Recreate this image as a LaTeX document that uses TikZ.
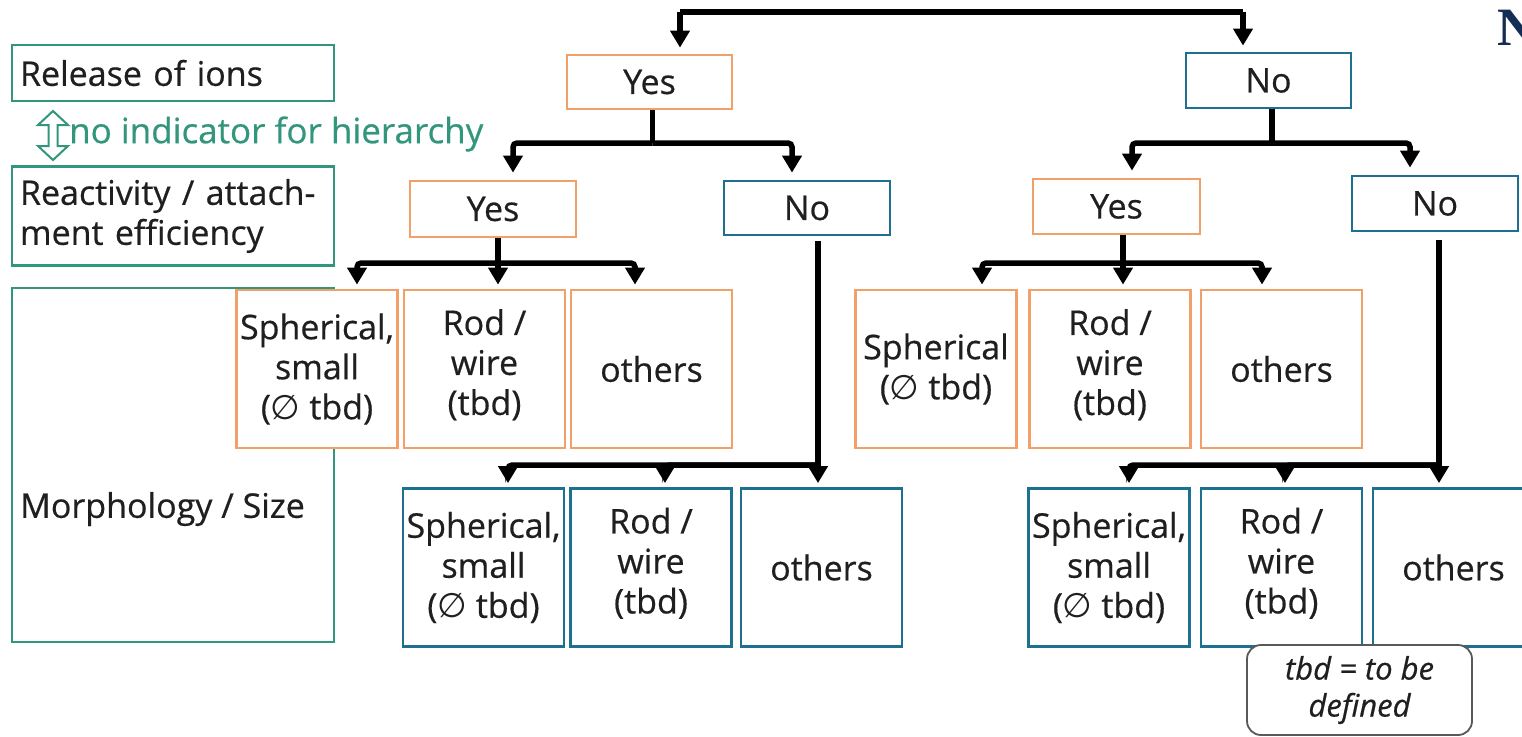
\documentclass[tikz,border=0pt]{standalone}
\usepackage{fontspec}
\setmainfont{Open Sans}[FakeBold=0.5]
\newfontfamily\serifN{Liberation Serif}
\newfontfamily\symf{DejaVu Sans}
\newcommand{\dia}{{\symf ∅}}
\usetikzlibrary{arrows.meta,calc}
\definecolor{orng}{RGB}{242,160,105}
\definecolor{blu}{RGB}{30,112,145}
\definecolor{grn}{RGB}{50,150,125}
\definecolor{navy}{RGB}{20,45,85}
\begin{document}
\begin{tikzpicture}[x=1pt,y=-1pt,
  every node/.style={font=\fontsize{34}{40}\selectfont, text=black!88},
  basebox/.style={line width=2.8, fill=white, inner sep=0, align=center},
  obox/.style={basebox, draw=orng},
  bbox/.style={basebox, draw=blu},
  gbox/.style={basebox, draw=grn, text width=306, align=left},
  morph/.style={minimum width=161, minimum height=158},
  conn/.style={line width=5.5, black, rounded corners=4},
  arr/.style={conn, -{Triangle[width=19pt,length=17pt]}, shorten >=4}
]
\clip (0,0) rectangle (1522,736);
\fill[white] (0,0) rectangle (1522,736);

% left legend boxes
\node[gbox, minimum width=322, minimum height=56] (rel) at (173,73) {Release of ions};
\node[gbox, minimum width=322, minimum height=99] (rea) at (173,216) {Reactivity / attach-\\ment efficiency};
\node[gbox, minimum width=322, minimum height=354] (mor) at (173,465) {};
\node[anchor=west, inner sep=0] (morT) at (20,509) {Morphology / Size};
\draw[grn, line width=2, fill=white] (53,111) -- (68,125) -- (57.5,125) -- (57.5,146) -- (68,146) -- (53,160) -- (38,146) -- (48.5,146) -- (48.5,125) -- (38,125) -- cycle;
\node[anchor=west, inner sep=0, text=grn, font=\fontsize{35}{40}\selectfont] (hier) at (69,134) {no indicator for hierarchy};

% top level
\node[obox, minimum width=165, minimum height=54] (yesT) at (649.5,82) {Yes};
\node[bbox, minimum width=165, minimum height=55] (noT) at (1268.5,80.5) {No};
% second level
\node[obox, minimum width=166, minimum height=56] (yesL) at (493,209) {Yes};
\node[bbox, minimum width=166, minimum height=54] (noL) at (807,208) {No};
\node[obox, minimum width=167, minimum height=55] (yesR) at (1116.5,206.5) {Yes};
\node[bbox, minimum width=166, minimum height=55] (noR) at (1435,203.5) {No};
% morphology rows
\node[obox, morph] (sphL) at (317,369) {Spherical,\\small\\(\dia{} tbd)};
\node[obox, morph] (rodL) at (484.5,369) {Rod /\\wire\\(tbd)\\[-26pt]};
\node[obox, morph] (othL) at (651.5,369) {others};
\node[bbox, morph] (sphLB) at (483.5,567.5) {Spherical,\\small\\(\dia{} tbd)};
\node[bbox, morph] (rodLB) at (651,567.5) {Rod /\\wire\\(tbd)\\[-26pt]};
\node[bbox, morph] (othLB) at (821.5,567.5) {others};
\node[obox, morph] (sphR) at (936,369) {Spherical\\(\dia{} tbd)};
\node[obox, morph] (rodR) at (1110,369) {Rod /\\wire\\(tbd)\\[-26pt]};
\node[obox, morph] (othR) at (1281.5,369) {others};
\node[bbox, morph] (sphRB) at (1109,567.5) {Spherical,\\small\\(\dia{} tbd)};
\node[bbox, morph] (rodRB) at (1281.5,567.5) {Rod /\\wire\\(tbd)\\[-26pt]};
\node[bbox, morph] (othRB) at (1453.5,567.5) {others};

% connectors: top
\coordinate (tL) at (680,12);
\coordinate (tR) at (1243,12);
\draw[conn] (tL) -- (tR);
\draw[arr, shorten >=6] (tL) -- (tL |- yesT.north);
\draw[arr, shorten >=6] (tR) -- (tR |- noT.north);
% yesT branch
\coordinate (j1) at (652.5,143);
\draw[conn] (j1 |- yesT.south) -- (j1);
\draw[arr, shorten >=7] (j1) -| ([xshift=20]yesL.north);
\draw[arr, shorten >=7] (j1) -| ([xshift=-15]noL.north);
% noT branch
\coordinate (j2) at (1272,143);
\draw[conn] (j2 |- noT.south) -- (j2);
\draw[arr, shorten >=7] (j2) -| ([xshift=15.5]yesR.north);
\draw[arr, shorten >=7] (j2) -| ([xshift=-25]noR.north);
% yesL branch
\coordinate (j3) at (498,263);
\draw[arr] (j3 |- yesL.south) -- (j3 |- rodL.north);
\draw[arr] (j3) -| ([xshift=40]sphL.north);
\draw[arr] (j3) -| ([xshift=-16.5]othL.north);
% yesR branch
\coordinate (j4) at (1123,263);
\draw[arr] (j4 |- yesR.south) -- (j4 |- rodR.north);
\draw[arr] (j4) -| ([xshift=46]sphR.north);
\draw[arr] (j4) -| ([xshift=-19.5]othR.north);
% noL branch
\coordinate (j5) at (818,465);
\draw[arr, shorten <=5] (j5 |- noL.south) -- (j5 |- othLB.north);
\draw[arr] (j5) -| ([xshift=24.5]sphLB.north);
\draw[arr] (j5) -| ([xshift=14]rodLB.north);
% noR branch
\coordinate (j6) at (1439,465);
\draw[arr, shorten <=8] (j6 |- noR.south) -- (j6 |- othRB.north);
\draw[arr] (j6) -| ([xshift=20]sphRB.north);
\draw[arr] (j6) -| ([xshift=3.5]rodRB.north);

% note
\node[draw=black!65, line width=1.8, rounded corners=14, fill=white, minimum width=225, minimum height=90, inner sep=0, align=center, font=\fontsize{31}{37}\selectfont\itshape] (tbd) at (1359.5,690) {tbd = to be\\defined};

% cut-off title letter
\node[anchor=base west, inner sep=0, text=navy, font=\serifN\bfseries\fontsize{54}{54}\selectfont] (ttl) at (1497,45) {N};
\end{tikzpicture}
\end{document}
